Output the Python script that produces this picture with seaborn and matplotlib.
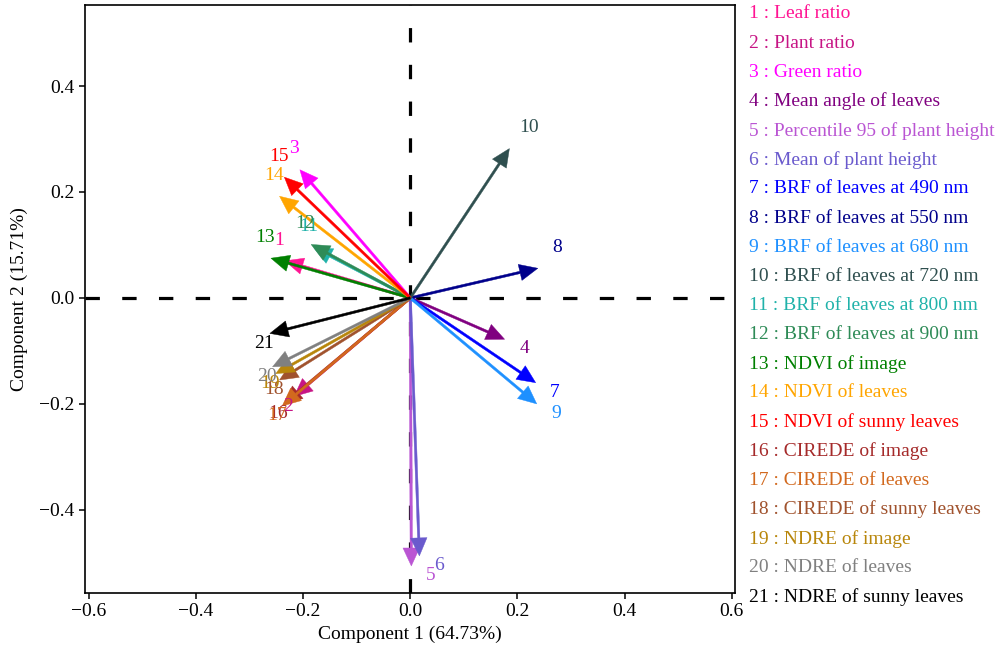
import numpy as np
import pandas as pd
import matplotlib
matplotlib.use("Agg")
import matplotlib.pyplot as plt
import seaborn as sns

# PCA loadings of the 21 variables on the first two components
var_ids = [str(i) for i in range(1, 22)]
var_names = [
    "Leaf ratio", "Plant ratio", "Green ratio", "Mean angle of leaves",
    "Percentile 95 of plant height", "Mean of plant height",
    "BRF of leaves at 490 nm", "BRF of leaves at 550 nm",
    "BRF of leaves at 680 nm", "BRF of leaves at 720 nm",
    "BRF of leaves at 800 nm", "BRF of leaves at 900 nm",
    "NDVI of image", "NDVI of leaves", "NDVI of sunny leaves",
    "CIREDE of image", "CIREDE of leaves", "CIREDE of sunny leaves",
    "NDRE of image", "NDRE of leaves", "NDRE of sunny leaves",
]
pc1 = [-0.234, -0.217, -0.206, 0.176, 0.002, 0.017, 0.234, 0.238, 0.236,
       0.185, -0.180, -0.185, -0.260, -0.244, -0.235, -0.236, -0.239,
       -0.244, -0.251, -0.257, -0.262]
pc2 = [0.070, -0.186, 0.242, -0.078, -0.506, -0.487, -0.160, 0.056, -0.200,
       0.282, 0.095, 0.101, 0.075, 0.192, 0.228, -0.200, -0.204,
       -0.155, -0.143, -0.130, -0.067]
var_colors = [
    "deeppink", "mediumvioletred", "magenta", "purple", "mediumorchid",
    "slateblue", "blue", "darkblue", "dodgerblue", "darkslategray",
    "lightseagreen", "seagreen", "green", "orange", "red", "brown",
    "chocolate", "sienna", "darkgoldenrod", "gray", "black",
]
x_label = "Component 1 (64.73%)"
y_label = "Component 2 (15.71%)"
x_ticks = [-0.6, -0.4, -0.2, 0.0, 0.2, 0.4, 0.6]
y_ticks = [-0.4, -0.2, 0.0, 0.2, 0.4]

loadings = pd.DataFrame({"id": var_ids, "name": var_names,
                         "pc1": pc1, "pc2": pc2, "color": var_colors})

sns.set_theme(style="ticks")
plt.rcParams["font.family"] = ["Liberation Serif", "DejaVu Serif"]
plt.rcParams["axes.unicode_minus"] = True

W, H = 1005, 653
fig = plt.figure(figsize=(W / 100, H / 100), dpi=100)
ax = fig.add_axes([85 / W, 1 - 593 / H, (735 - 85) / W, (593 - 5) / H])

# Origin cross-hairs
dash = (0, (4.5, 7))
ax.axhline(0, color="black", lw=2.3, ls=dash, zorder=1)
ax.axvline(0, color="black", lw=2.3, ls=dash, zorder=1)

# Loading vectors with their variable numbers
for _, r in loadings.iterrows():
    ax.arrow(0, 0, r.pc1, r.pc2, width=0.0045, head_width=0.031,
             head_length=0.034, length_includes_head=True,
             fc=r.color, ec=r.color, lw=0.3, zorder=3)
    dx = 14 if r.pc1 > 0 else -4
    dy = 15 if r.pc2 > 0 else -7
    ax.annotate(r.id, (r.pc1, r.pc2), xytext=(dx, dy),
                textcoords="offset points", ha="center", va="center",
                color=r.color, fontsize=14, zorder=4)

ax.set_xlim(-0.607, 0.606)
ax.set_ylim(-0.557, 0.553)
ax.set_xticks(x_ticks)
ax.set_yticks(y_ticks)
ax.set_xticklabels([f"{t:.1f}".replace("-", "\u2212") for t in x_ticks])
ax.set_yticklabels([f"{t:.1f}".replace("-", "\u2212") for t in y_ticks])
ax.tick_params(labelsize=14, length=4, width=1.1, color="black",
               labelcolor="black", direction="out")
ax.set_xlabel(x_label, fontsize=14, color="black", labelpad=4)
ax.set_ylabel(y_label, fontsize=14, color="black", labelpad=8)
for s in ax.spines.values():
    s.set_color("black")
    s.set_linewidth(1.2)
ax.grid(False)

# Variable key on the right
y0, step = 14, 29.15
for i, r in loadings.iterrows():
    fig.text(749 / W, 1 - (y0 + i * step) / H, f"{r.id} : {r['name']}",
             color=r.color, fontsize=14, ha="left", va="center")

fig.savefig("out.png", dpi=100)
